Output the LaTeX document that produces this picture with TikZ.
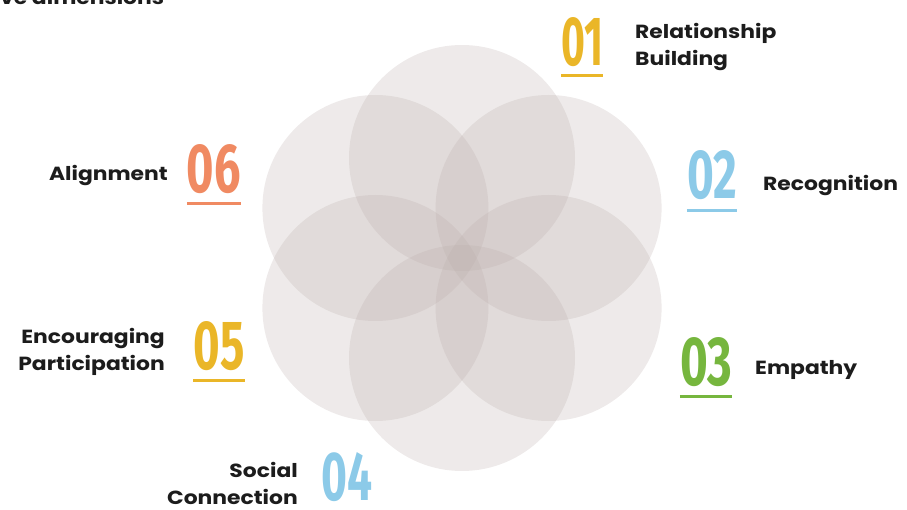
\documentclass[tikz,border=0pt]{standalone}
\usepackage{fontspec}
\usepackage{graphicx}
\usepackage{xcolor}
\setmainfont{Poppins}[FakeStretch=1.15]
\newfontfamily\numfont{Fira Sans}
\definecolor{ink}{RGB}{28,28,28}
\definecolor{petalgrey}{RGB}{186,172,170}
\definecolor{numgold}{RGB}{234,182,40}
\definecolor{numblue}{RGB}{140,202,232}
\definecolor{numgreen}{RGB}{118,182,62}
\definecolor{numsalmon}{RGB}{240,138,98}
\newcommand{\dimnum}[2]{\resizebox{#1}{48pt}{\numfont\bfseries #2}}
\tikzset{x=1pt, y=-1pt,
 petal/.style={fill=petalgrey, fill opacity=0.25, draw=none},
 dimtext/.style={font=\bfseries\fontsize{19}{27}\selectfont, text=ink, inner sep=0pt},
 dimnum/.style={inner sep=0pt},
 numline/.style={line width=2.6pt},
 }
\usetikzlibrary{positioning}

\begin{document}
\begin{tikzpicture}
        \useasboundingbox (0,0) rectangle (907,510);
        \begin{scope}
        \clip (0,0) rectangle (907,510);
        \node[dimtext, anchor=base west] (title) at (0,5) {ve dimensions};
        \end{scope}
        % flower
        \foreach \a in {90,30,-30,-90,-150,150}
            \fill[petal] (462,258) ++(\a:100) circle (113);
        % numbers
        \node[dimnum, text=numgold] (n1) at (582,42) {\dimnum{42pt}{01}};
        \node[dimnum, text=numblue] (n2) at (712,175) {\dimnum{50pt}{02}};
        \node[dimnum, text=numgreen] (n3) at (706,362) {\dimnum{52pt}{03}};
        \node[dimnum, text=numblue] (n4) at (347,477) {\dimnum{51pt}{04}};
        \node[dimnum, text=numgold] (n5) at (219,346) {\dimnum{51pt}{05}};
        \node[dimnum, text=numsalmon] (n6) at (214,169) {\dimnum{54pt}{06}};
        \draw[numline, numgold] ([yshift=-9pt]n1.south west) -- ([yshift=-9pt]n1.south east);
        \draw[numline, numblue] ([yshift=-11pt]n2.south west) -- ([yshift=-11pt]n2.south east);
        \draw[numline, numgreen] ([yshift=-10pt]n3.south west) -- ([yshift=-10pt]n3.south east);
        \draw[numline, numgold] ([yshift=-10pt]n5.south west) -- ([yshift=-10pt]n5.south east);
        \draw[numline, numsalmon] ([yshift=-10pt]n6.south west) -- ([yshift=-10pt]n6.south east);
        % labels
        \node[dimtext, anchor=west, align=left] (t1) at (635,47) {Relationship\\Building};
        \node[dimtext, anchor=west] (t2) at (763,186) {Recognition};
        \node[dimtext, anchor=west] (t3) at (755,370) {Empathy};
        \node[dimtext, anchor=east, align=right] (t4) at (298,483) {Social\\Connection};
        \node[dimtext, anchor=east, align=right] (t5) at (165,352) {Encouraging\\Participation};
        \node[dimtext, anchor=east] (t6) at (168,176) {Alignment};
    \end{tikzpicture}
\end{document}
